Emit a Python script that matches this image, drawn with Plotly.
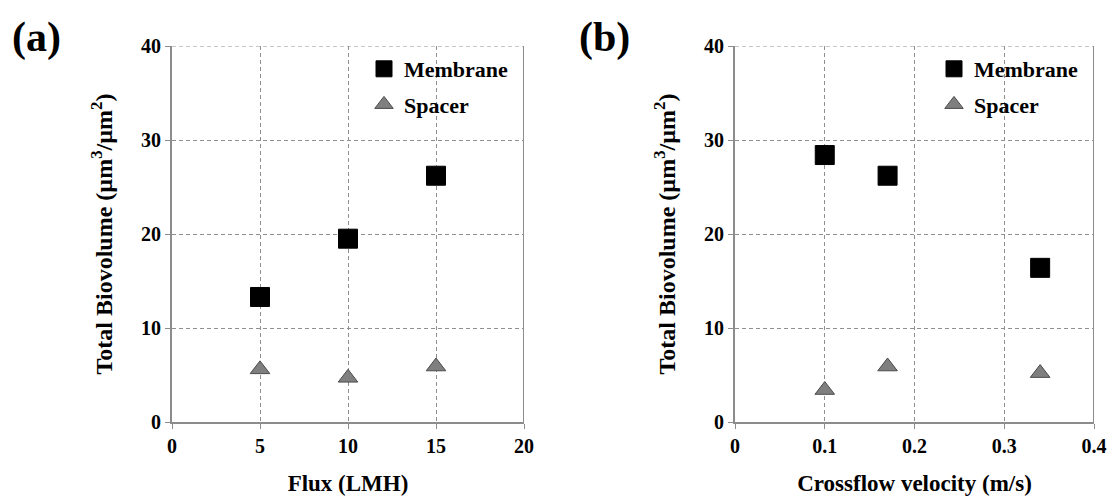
import plotly.graph_objects as go

# Panel (a): biovolume versus permeate flux
flux = [5, 10, 15]
flux_membrane = [13.3, 19.5, 26.2]
flux_spacer = [5.6, 4.7, 5.9]

# Panel (b): biovolume versus crossflow velocity
velocity = [0.1, 0.17, 0.34]
vel_membrane = [28.4, 26.2, 16.4]
vel_spacer = [3.4, 5.9, 5.2]

flux_ticks = [0, 5, 10, 15, 20]
vel_ticks = [0, 0.1, 0.2, 0.3, 0.4]
y_ticks = [0, 10, 20, 30, 40]

FONT = "Liberation Serif"
GRID = "#8f8f8f"
AXIS = "#8c8c8c"
DASH = "4px,3px"

fig = go.Figure()

square = dict(symbol="square", size=19, color="black", line=dict(color="black", width=1))
triangle = dict(symbol="triangle-up", size=17, color="#7f7f7f", line=dict(color="#4a4a4a", width=1))

fig.add_trace(go.Scatter(x=flux, y=flux_membrane, mode="markers", name="Membrane",
                         marker=square, xaxis="x", yaxis="y", legend="legend", legendgroup="a1"))
fig.add_trace(go.Scatter(x=flux, y=flux_spacer, mode="markers", name="Spacer",
                         marker=triangle, xaxis="x", yaxis="y", legend="legend", legendgroup="a2"))
fig.add_trace(go.Scatter(x=velocity, y=vel_membrane, mode="markers", name="Membrane",
                         marker=square, xaxis="x2", yaxis="y2", legend="legend2", legendgroup="b1"))
fig.add_trace(go.Scatter(x=velocity, y=vel_spacer, mode="markers", name="Spacer",
                         marker=triangle, xaxis="x2", yaxis="y2", legend="legend2", legendgroup="b2"))

W, H = 1110, 498
def px_x(p):
    return p / W
def px_y(p):
    return (H - p) / H

tick_font = dict(family=FONT, size=20, color="black", weight="bold")
title_font = dict(family=FONT, size=23, color="black", weight="bold")
ytitle_font = dict(family=FONT, size=24, color="black", weight="bold")

def xaxis(dom, rng, ticks, title, fmt):
    return dict(domain=dom, range=rng, tickvals=ticks, ticktext=[fmt(t) for t in ticks],
                showgrid=True, gridcolor=GRID, griddash=DASH, gridwidth=1,
                showline=True, linecolor=AXIS, linewidth=2, mirror=False, automargin=False,
                ticks="outside", ticklen=5, tickcolor=AXIS, zeroline=False,
                ticklabeloverflow="allow",
                tickfont=tick_font, title=dict(text=title, font=title_font, standoff=19))

def yaxis(anchor, title):
    return dict(domain=[px_y(422), px_y(46)], range=[0, 40], tickvals=y_ticks,
                showgrid=True, gridcolor=GRID, griddash=DASH, gridwidth=1,
                showline=True, linecolor=AXIS, linewidth=2, anchor=anchor, automargin=False,
                ticks="outside", ticklen=5, tickcolor=AXIS, zeroline=False,
                tickfont=tick_font, title=dict(text=title, font=ytitle_font, standoff=22))

ytitle = "Total Biovolume (µm<sup>3</sup>/µm<sup>2</sup>)"

legend_style = dict(font=dict(family=FONT, size=22, color="black", weight="bold"),
                    bgcolor="rgba(0,0,0,0)", tracegroupgap=4, itemwidth=30,
                    xanchor="left", yanchor="top")

fig.update_layout(
    width=W, height=H,
    margin=dict(l=0, r=0, t=0, b=0),
    paper_bgcolor="white", plot_bgcolor="white",
    xaxis=xaxis([px_x(172), px_x(524)], [0, 20], flux_ticks, "Flux (LMH)", lambda t: str(t)),
    yaxis=yaxis("x", ytitle),
    xaxis2=xaxis([px_x(735), px_x(1094)], [0, 0.4], vel_ticks, "Crossflow velocity (m/s)",
                 lambda t: "0" if t == 0 else f"{t:.1f}"),
    yaxis2=yaxis("x2", ytitle),
    legend=dict(x=px_x(364), y=px_y(48), **legend_style),
    legend2=dict(x=px_x(934), y=px_y(48), **legend_style),
    showlegend=True,
    annotations=[
        dict(text="(a)", x=px_x(10), y=px_y(37), xref="paper", yref="paper",
             xanchor="left", yanchor="middle", showarrow=False,
             font=dict(family=FONT, size=42, color="black", weight="bold")),
        dict(text="(b)", x=px_x(577), y=px_y(37), xref="paper", yref="paper",
             xanchor="left", yanchor="middle", showarrow=False,
             font=dict(family=FONT, size=42, color="black", weight="bold")),
    ],
)

# Frame the top edge with dashed grey and the right edge with a solid grey line
for xr, x0, x1 in [("x", 0, 20), ("x2", 0, 0.4)]:
    yr = "y" if xr == "x" else "y2"
    fig.add_shape(type="line", xref=xr, yref=yr, x0=x0, x1=x1, y0=40, y1=40,
                  line=dict(color=GRID, width=1, dash=DASH))
    fig.add_shape(type="line", xref=xr, yref=yr, x0=x1, x1=x1, y0=0, y1=40,
                  line=dict(color=AXIS, width=2))

fig.write_html("out.html")
